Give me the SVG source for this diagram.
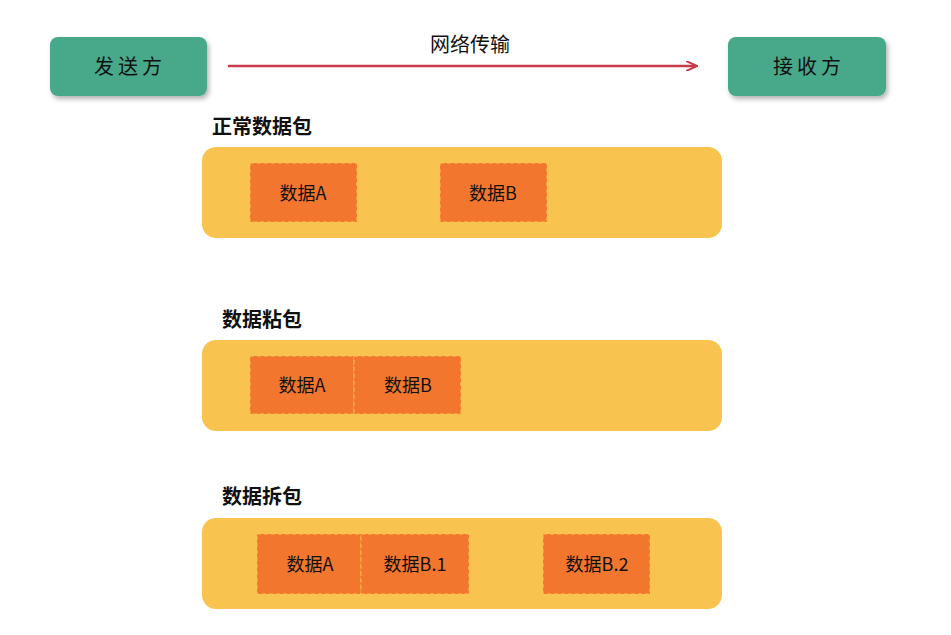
<svg xmlns="http://www.w3.org/2000/svg" width="951" height="635" viewBox="0 0 951 635">
<style>
text{font-family:"Noto Sans CJK SC","Liberation Sans",sans-serif;fill:#111}
.ep rect{fill:#46a98a}
.ep text{font-size:20px;text-anchor:middle;letter-spacing:4px}
.ct{fill:#f8c44f}
.pk{fill:#f2762e;stroke:#f8c44f;stroke-dasharray:4 3;stroke-width:1}
.pt{font-size:18px;text-anchor:middle}
.lb{font-size:20px;font-weight:bold}
</style>
<defs>
<filter id="sh" x="-20%" y="-30%" width="140%" height="160%"><feDropShadow dx="2" dy="3" stdDeviation="2.5" flood-color="#000" flood-opacity="0.3"/></filter>
<marker id="ar" markerWidth="12" markerHeight="10" refX="10" refY="5" orient="auto" markerUnits="userSpaceOnUse"><path d="M0,0 L11,5 L0,10" fill="none" stroke="#c93a4a" stroke-width="2"/></marker>
</defs>
<rect width="951" height="635" fill="#fff"/>
<g id="sender" class="ep"><rect x="50" y="37" width="157" height="59" rx="8" filter="url(#sh)"/><text x="130" y="74">发送方</text></g>
<g id="receiver" class="ep"><rect x="728" y="37" width="158" height="59" rx="8" filter="url(#sh)"/><text x="809" y="74">接收方</text></g>
<g id="connectors"><line x1="228" y1="66" x2="696" y2="66" stroke="#c93a4a" stroke-width="2.5" marker-end="url(#ar)"/><text x="470" y="52" font-size="20" text-anchor="middle">网络传输</text></g>
<g id="normal">
<text class="lb" x="212" y="134">正常数据包</text>
<rect class="ct" x="202" y="147" width="520" height="91" rx="14"/>
<rect class="pk" x="250" y="163" width="107" height="59"/><text class="pt" x="303" y="200">数据A</text>
<rect class="pk" x="440" y="163" width="107" height="59"/><text class="pt" x="493" y="200">数据B</text>
</g>
<g id="sticky">
<text class="lb" x="222" y="327">数据粘包</text>
<rect class="ct" x="202" y="340" width="520" height="91" rx="14"/>
<rect class="pk" x="250" y="356" width="104" height="58"/><text class="pt" x="302" y="392">数据A</text>
<rect class="pk" x="354" y="356" width="107" height="58"/><text class="pt" x="408" y="392">数据B</text>
</g>
<g id="split">
<text class="lb" x="222" y="504">数据拆包</text>
<rect class="ct" x="202" y="518" width="520" height="91" rx="14"/>
<rect class="pk" x="257" y="534" width="104" height="60"/><text class="pt" x="310" y="571">数据A</text>
<rect class="pk" x="361" y="534" width="108" height="60"/><text class="pt" x="415" y="571">数据B.1</text>
<rect class="pk" x="543" y="534" width="107" height="60"/><text class="pt" x="597" y="571">数据B.2</text>
</g>
</svg>
